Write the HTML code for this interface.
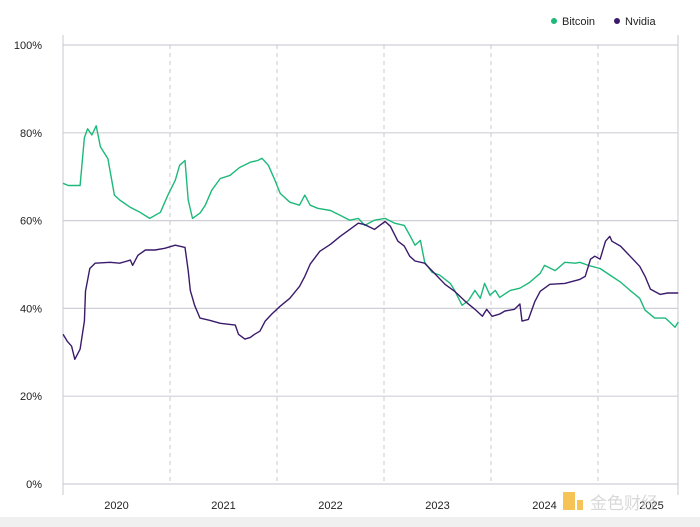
<!DOCTYPE html>
<html><head><meta charset="utf-8">
<style>
html,body{margin:0;padding:0;background:#fff;}
svg{display:block;font-family:"Liberation Sans","Noto Sans CJK SC",sans-serif;}
</style></head>
<body>
<svg id="chart" width="700" height="527" viewBox="0 0 700 527">
  <rect x="0" y="517" width="700" height="10" fill="#f0f0f0"/>
  <g id="grid"></g>
  <g id="axes"></g>
  <g id="series"></g>
  <g>
    <g>
      <circle cx="554" cy="21" r="3" fill="#1db97a"/>
      <text x="562" y="25" font-size="11" fill="#222">Bitcoin</text>
    </g>
    <g>
      <circle cx="617" cy="21" r="3" fill="#3b1a6b"/>
      <text x="625" y="25" font-size="11" fill="#222">Nvidia</text>
    </g>
  </g>
  <g opacity="0.75">
    <rect x="563" y="492" width="12" height="18" fill="#f2b01e"/>
    <rect x="577" y="500" width="6" height="10" fill="#f2b01e"/>
    <text x="590" y="509" font-size="17" fill="#ccc">金色财经</text>
  </g>
</svg>
<script>
var yTicks = [0, 20, 40, 60, 80, 100];
var yTickLabels = ["0%", "20%", "40%", "60%", "80%", "100%"];
var yearLabels = ["2020", "2021", "2022", "2023", "2024", "2025"];
var yearBoundaries = [2021, 2022, 2023, 2024, 2025];
var btcDates = [2020.00,2020.05,2020.16,2020.20,2020.23,2020.27,2020.31,2020.35,2020.42,2020.48,2020.53,2020.63,2020.72,2020.81,2020.91,2020.98,2021.05,2021.09,2021.14,2021.17,2021.21,2021.28,2021.33,2021.39,2021.47,2021.56,2021.65,2021.75,2021.82,2021.86,2021.92,2021.98,2022.03,2022.12,2022.21,2022.26,2022.31,2022.38,2022.50,2022.59,2022.68,2022.76,2022.82,2022.91,2023.01,2023.10,2023.19,2023.24,2023.29,2023.34,2023.38,2023.45,2023.52,2023.62,2023.66,2023.73,2023.79,2023.85,2023.90,2023.94,2023.99,2024.04,2024.08,2024.18,2024.27,2024.36,2024.46,2024.50,2024.60,2024.69,2024.79,2024.83,2024.91,2025.02,2025.11,2025.21,2025.30,2025.39,2025.44,2025.53,2025.63,2025.67,2025.72,2025.75];
var btcValues = [68.5,68,68,78.9,80.9,79.5,81.6,76.8,74.1,65.8,64.7,63.0,61.9,60.5,61.9,65.8,69.2,72.6,73.7,64.7,60.5,61.7,63.5,66.9,69.6,70.3,72.1,73.3,73.7,74.2,72.6,69.2,66.2,64.2,63.5,65.8,63.5,62.8,62.3,61.2,60.1,60.5,58.9,60.1,60.5,59.4,58.9,56.7,54.4,55.5,50.5,48.2,47.6,45.7,44.1,40.7,41.8,44.1,42.3,45.7,43.0,44.1,42.5,44.1,44.6,45.9,48.0,49.8,48.6,50.5,50.3,50.5,49.8,49.1,47.6,46.0,44.1,42.3,39.6,37.8,37.8,36.9,35.7,36.9];
var nvdaDates = [2020.00,2020.04,2020.08,2020.11,2020.16,2020.20,2020.21,2020.25,2020.30,2020.44,2020.53,2020.63,2020.65,2020.70,2020.77,2020.86,2020.95,2021.05,2021.14,2021.17,2021.19,2021.23,2021.28,2021.37,2021.47,2021.61,2021.64,2021.70,2021.75,2021.79,2021.84,2021.89,2021.95,2022.03,2022.12,2022.21,2022.26,2022.31,2022.40,2022.50,2022.59,2022.68,2022.76,2022.82,2022.91,2023.01,2023.06,2023.13,2023.19,2023.24,2023.29,2023.38,2023.48,2023.57,2023.66,2023.76,2023.85,2023.92,2023.96,2024.01,2024.08,2024.13,2024.22,2024.27,2024.29,2024.35,2024.41,2024.46,2024.55,2024.69,2024.83,2024.88,2024.93,2024.97,2025.02,2025.07,2025.11,2025.13,2025.21,2025.30,2025.39,2025.44,2025.49,2025.58,2025.65,2025.75];
var nvdaValues = [34.1,32.5,31.4,28.4,30.7,37.1,43.9,49.1,50.3,50.5,50.3,51.0,49.8,52.1,53.3,53.3,53.7,54.4,53.9,48.6,44.1,40.7,37.8,37.3,36.6,36.2,34.1,33.0,33.4,34.1,34.8,37.1,38.7,40.5,42.3,45.0,47.3,50.1,53.0,54.6,56.4,58.0,59.4,59.1,58.0,59.8,58.7,55.3,54.2,51.9,50.8,50.3,47.8,45.5,43.9,41.6,39.8,38.2,39.8,38.2,38.7,39.4,39.8,41.0,37.1,37.5,41.6,43.9,45.5,45.7,46.6,47.3,51.2,51.9,51.2,55.3,56.4,55.3,54.2,51.9,49.6,47.3,44.4,43.2,43.5,43.5];

var NS = "http://www.w3.org/2000/svg";
var L = 63, R = 678, Y0 = 484, Y100 = 45;
function xScale(t){ return L + (t - 2020) * 107; }
function yScale(v){ return Y0 - (v / 100) * (Y0 - Y100); }
function mk(tag, attrs, parent){
  var e = document.createElementNS(NS, tag);
  for (var k in attrs) e.setAttribute(k, attrs[k]);
  parent.appendChild(e); return e;
}
var grid = document.getElementById('grid');
var axes = document.getElementById('axes');
var series = document.getElementById('series');

yTicks.forEach(function(v, i){
  var y = yScale(v);
  var ln = mk('line', {x1:L, x2:R, y1:y, y2:y, stroke:'#cfd0d6', 'stroke-width':1.2}, grid);
  
  
  var tx = mk('text', {x:42, y:y+4, 'font-size':11, fill:'#222', 'text-anchor':'end'}, axes);
  tx.textContent = yTickLabels[i];
  
  
});
yearBoundaries.forEach(function(t){
  var x = xScale(t);
  var ln = mk('line', {x1:x, x2:x, y1:Y100, y2:Y0, stroke:'#c8c8cc', 'stroke-width':1, 'stroke-dasharray':'4,4'}, grid);
  
  
});
yearLabels.forEach(function(lb, i){
  var tx = mk('text', {x:xScale(2020 + i + 0.5), y:509, 'font-size':11, fill:'#222', 'text-anchor':'middle'}, axes);
  tx.textContent = lb;
  
  
});
[L, R].forEach(function(x){
  var ln = mk('line', {x1:x, x2:x, y1:35, y2:495, stroke:'#c8c8d0', 'stroke-width':1}, axes);
  
  
});
function drawLine(dates, vals, color, name){
  var d = dates.map(function(t, i){ return (i ? 'L' : 'M') + xScale(t).toFixed(1) + ',' + yScale(vals[i]).toFixed(1); }).join('');
  var p = mk('path', {d:d, fill:'none', stroke:color, 'stroke-width':1.4, 'stroke-linejoin':'round'}, series);
  
  
}
drawLine(btcDates, btcValues, '#1db97a', 'bitcoin-line');
drawLine(nvdaDates, nvdaValues, '#3b1a6b', 'nvidia-line');
</script>
</body></html>
